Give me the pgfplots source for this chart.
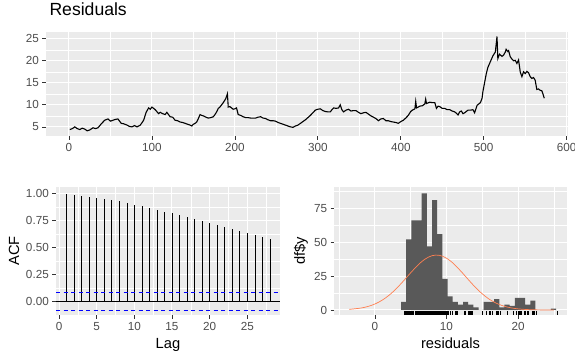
\documentclass[border=0pt]{standalone}
\usepackage{fontspec}
\setmainfont{Liberation Sans}
\usepackage{pgfplots}
\usepackage{pgfplotstable}
\pgfplotsset{compat=1.18}
\definecolor{ggbg}{HTML}{EBEBEB}
\definecolor{ggtxt}{HTML}{4D4D4D}
\definecolor{ggtick}{HTML}{333333}
\definecolor{ggbar}{HTML}{595959}
\definecolor{coral}{HTML}{FF7F50}

\pgfplotstableread{
t y
1 4.4
4 4.6
7 5.0
10 4.6
13 4.4
16 4.7
19 4.5
22 4.1
25 4.3
29 4.8
32 4.6
35 4.8
39 5.7
43 6.5
47 6.8
50 6.3
53 6.5
56 6.7
59 6.8
63 5.8
66 5.7
70 5.4
73 5.1
76 5.0
79 5.3
82 5.0
86 5.4
90 6.5
93 8.3
96 9.3
98 9.0
100 9.5
104 8.9
108 8.0
110 8.3
113 8.0
116 7.8
118 8.3
122 7.3
125 7.2
128 6.5
131 6.4
134 6.1
137 6.0
140 5.8
143 5.6
146 5.4
148 5.2
150 5.6
152 5.8
154 6.1
156 6.9
158 7.8
160 7.6
162 7.5
165 7.2
168 7.0
171 7.1
174 7.3
176 7.8
178 8.4
180 9.2
182 9.5
184 10.0
186 10.5
189 11.4
191 12.5
192 9.5
194 9.6
196 9.3
198 9.0
200 9.1
202 9.3
204 7.8
207 7.6
210 7.3
213 7.1
216 7.1
219 7.0
222 7.0
225 7.0
228 7.2
231 7.3
234 7.0
237 6.9
240 6.6
243 6.4
246 6.4
249 6.3
252 6.0
255 5.8
258 5.6
261 5.4
264 5.2
267 5.0
270 4.9
273 5.2
276 5.4
279 5.8
282 6.2
285 6.6
288 7.1
291 7.6
294 8.2
297 8.8
300 9.0
303 9.1
306 8.7
309 8.5
312 8.4
315 8.4
317 8.9
319 9.3
322 9.2
325 9.3
327 10.0
329 8.9
331 8.4
334 8.8
337 9.0
340 8.6
343 8.7
346 8.7
349 8.3
352 8.0
355 8.2
358 8.3
361 7.9
364 7.5
367 7.2
370 6.9
373 6.4
376 6.8
379 6.9
382 6.4
385 6.4
388 6.2
391 6.1
394 6.0
397 5.8
400 6.2
403 6.5
406 7.0
409 7.6
412 8.5
414 8.8
417 9.1
418 10.8
419 9.3
423 9.7
426 9.8
429 10.2
430 11.3
431 10.3
435 10.6
438 10.5
441 10.5
443 9.2
445 9.7
447 9.6
450 9.2
453 9.2
456 8.9
459 8.9
462 8.6
465 8.4
467 8.1
469 7.7
471 8.4
473 8.6
475 8.0
477 8.2
479 8.5
481 8.8
484 8.8
487 8.9
489 8.2
492 9.9
494 10.2
496 10.5
498 11.5
499 13.0
501 15.0
503 17.0
505 18.5
508 19.8
511 21.1
514 22.0
516 25.5
517 20.5
519 21.5
522 21.0
524 21.3
526 22.0
527 22.6
529 22.1
530 22.3
532 20.9
534 20.4
536 20.0
538 20.1
540 19.4
542 20.2
544 17.5
546 16.4
548 17.5
550 17.1
552 17.6
554 17.3
556 16.4
558 16.0
560 16.2
562 15.6
564 13.5
566 13.6
568 13.3
570 13.2
571 12.7
573 11.5
}\resid

\pgfplotsset{gg/.style={
  scale only axis,
  axis background/.style={fill=ggbg},
  axis line style={draw=none},
  grid=both,
  major grid style={white, line width=1.0pt},
  minor grid style={white, line width=0.5pt},
  tick align=outside,
  major tick length=3.7pt,
  minor tick length=0pt,
  xtick pos=bottom, ytick pos=left,
  tick style={ggtick, line width=0.7pt},
  every tick label/.append style={font=\fontsize{11.7}{12}\selectfont, text=ggtxt},
  /pgf/number format/assume math mode=true,
  xlabel style={font=\fontsize{14.7}{16}\selectfont},
  ylabel style={font=\fontsize{14.7}{16}\selectfont},
}}

\begin{document}
\begin{tikzpicture}
\useasboundingbox (0pt,0pt) rectangle (575pt,-361pt);

% top: residual series
\begin{axis}[gg, at={(46pt,-136pt)}, anchor=south west,
  width=522pt, height=104.3pt,
  xmin=-27.7, xmax=601.6, ymin=2.93, ymax=26.6,
  xtick={0,100,200,300,400,500,600}, minor xtick={50,150,250,350,450,550},
  ytick={5,10,15,20,25}, minor ytick={7.5,12.5,17.5,22.5},
  title={Residuals},
  title style={at={(axis description cs:0,1)}, anchor=base west, yshift=10pt,
    font=\fontsize{17.6}{19}\selectfont},
]
\addplot[black, line width=1.1pt] table[x=t, y=y] \resid;
\end{axis}

% ACF
\begin{axis}[gg, at={(56pt,-315pt)}, anchor=south west,
  width=224pt, height=128.3pt,
  xmin=-0.4, xmax=29.34, ymin=-0.1226, ymax=1.061,
  xtick={0,5,10,15,20,25}, minor xtick={2.5,7.5,12.5,17.5,22.5,27.5},
  ytick={0,0.25,0.5,0.75,1}, minor ytick={0.125,0.375,0.625,0.875},
  yticklabel style={/pgf/number format/.cd, fixed, fixed zerofill, precision=2},
  xlabel={Lag}, ylabel={ACF},
  xlabel style={at={(axis description cs:0.5,-0.262)}, anchor=base},
  ylabel style={at={(axis description cs:-0.1875,0.5)}, anchor=center},
]
\addplot[ycomb, black, line width=0.6pt, mark=none] coordinates {
(1,0.997) (2,0.988) (3,0.978) (4,0.968) (5,0.958) (6,0.949) (7,0.940)
(8,0.929) (9,0.911) (10,0.895) (11,0.884) (12,0.868) (13,0.850) (14,0.830)
(15,0.815) (16,0.797) (17,0.777) (18,0.763) (19,0.744) (20,0.725) (21,0.707)
(22,0.688) (23,0.670) (24,0.651) (25,0.632) (26,0.615) (27,0.597) (28,0.578)};
\addplot[black, line width=0.7pt] coordinates {(-0.4,0) (29.34,0)};
\addplot[blue, line width=0.6pt, dash pattern=on 4pt off 3.5pt] coordinates {(-0.4,0.0834) (29.34,0.0834)};
\addplot[blue, line width=0.6pt, dash pattern=on 4pt off 3.5pt] coordinates {(-0.4,-0.0834) (29.34,-0.0834)};
\end{axis}

% histogram
\begin{axis}[gg, at={(334.3pt,-315pt)}, anchor=south west,
  width=232.4pt, height=128.3pt,
  xmin=-5.69, xmax=26.81, ymin=-3.69, ymax=90.9,
  xtick={0,10,20}, minor xtick={-5,5,15,25},
  ytick={0,25,50,75}, minor ytick={12.5,37.5,62.5,87.5},
  xlabel={residuals}, ylabel={df\$y},
  xlabel style={at={(axis description cs:0.5,-0.262)}, anchor=base},
  ylabel style={at={(axis description cs:-0.143,0.5)}, anchor=center},
]
\addplot[ybar interval, fill=ggbar, draw=none] coordinates {
(3.640,6) (4.363,52) (5.086,66) (5.809,66) (6.532,86) (7.255,47) (7.978,81)
(8.701,56) (9.424,23) (10.147,10) (10.870,6) (11.593,4) (12.316,6) (13.039,4)
(13.762,2) (14.485,0) (15.208,6) (15.931,6) (16.654,8) (17.377,2) (18.100,4)
(18.823,3) (19.546,9) (20.269,9) (20.992,4) (21.715,7) (22.438,0) (23.161,0)
(23.884,0) (24.607,1) (25.330,1)};
\addplot[coral, line width=0.7pt, smooth] coordinates {
(-3.6,0.47) (-2,1.41) (-1,2.58) (0,4.44) (1,7.21) (2,11.02) (3,15.86)
(4,21.52) (5,27.50) (6,33.09) (6.5,35.50) (7,37.51) (7.5,39.06) (8,40.07)
(8.5,40.49) (9,40.31) (9.5,39.53) (10,38.20) (10.5,36.36) (11,34.10)
(12,28.67) (13,22.71) (14,16.94) (15,11.91) (16,7.88) (17,4.92) (18,2.89)
(19,1.60) (20,0.83) (21,0.41) (22,0.19) (23,0.08) (24,0.03) (25,0.01)};
\addplot[only marks, mark=|, mark size=1.9pt, mark options={black, line width=0.9pt}]
  table[x expr=\thisrow{y}, y expr=-2.3] \resid;
\end{axis}
\end{tikzpicture}
\end{document}
